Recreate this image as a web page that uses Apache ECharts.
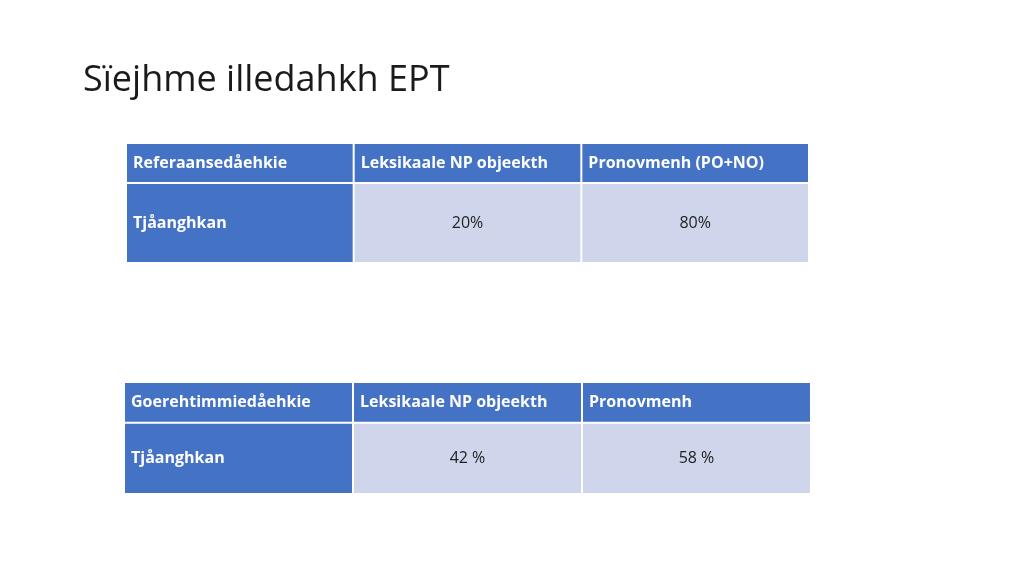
<!DOCTYPE html>
<html><head><meta charset="utf-8">
<script src="https://cdn.jsdelivr.net/npm/echarts@6/dist/echarts.min.js"></script>
<style>html,body{margin:0;padding:0;background:#fff}#c{width:1024px;height:576px}</style>
</head><body><div id="c"></div>
<script>
const title = "Sïejhme illedahkh EPT";
const headers1 = ["Referaansedåehkie", "Leksikaale NP objeekth", "Pronovmenh (PO+NO)"];
const row1 = ["Tjåanghkan", "20%", "80%"];
const headers2 = ["Goerehtimmiedåehkie", "Leksikaale NP objeekth", "Pronovmenh"];
const row2 = ["Tjåanghkan", "42 %", "58 %"];

function cells(headers, row, bodyEnd) {
  const d = [];
  headers.forEach((t, i) => d.push([i, 0, 1, t, 'h']));
  row.forEach((t, i) => d.push([i, 1, bodyEnd, t, i === 0 ? 'f' : 'b']));
  return d;
}
const data1 = cells(headers1, row1, 3);
const data2 = cells(headers2, row2, 2.75);
const all = [data1, data2];
function render(params, api) {
  const item = all[params.seriesIndex][params.dataIndex];
  const c = item[0], y0 = item[1], y1 = item[2];
  const p0 = api.coord([c, y0]), p1 = api.coord([c + 1, y1]);
  const kind = item[4], text = item[3];
  const x = p0[0] + 1, y = p0[1] + 1, w = p1[0] - p0[0] - 2, h = p1[1] - p0[1] - 2;
  const fill = kind === 'b' ? '#CFD5EA' : '#4472C4';
  const left = kind !== 'b';
  return {type: 'group', children: [
    {type: 'rect', shape: {x, y, width: w, height: h}, style: {fill}},
    {type: 'text', x: left ? x + 6 : x + w / 2, y: y + h / 2,
     style: {text, fill: kind === 'b' ? '#222' : '#fff', font: (kind === 'b' ? 'normal ' : 'bold ') + '16px "Open Sans", sans-serif',
       align: left ? 'left' : 'center', verticalAlign: 'middle'}}
  ]};
}
const chart = echarts.init(document.getElementById('c'));
const ax = (gi, max) => ({gridIndex: gi, type: 'value', min: 0, max, show: false});
chart.setOption({
  animation: false,
  title: {text: title, left: 78, top: 58, textStyle: {fontFamily: '"Open Sans", sans-serif', fontSize: 36, fontWeight: 'normal', color: '#1a1a1a'}},
  grid: [
    {left: 126, top: 143, width: 683, height: 120},
    {left: 124, top: 382, width: 687, height: 112}
  ],
  xAxis: [ax(0, 3), ax(1, 3)],
  yAxis: [Object.assign(ax(0, 3), {inverse: true}), Object.assign(ax(1, 2.75), {inverse: true})],
  series: [
    {type: 'custom', xAxisIndex: 0, yAxisIndex: 0, renderItem: render, data: data1.map(r => [r[0], r[1], r[2]]), encode: {x: 0, y: [1, 2]}},
    {type: 'custom', xAxisIndex: 1, yAxisIndex: 1, renderItem: render, data: data2.map(r => [r[0], r[1], r[2]]), encode: {x: 0, y: [1, 2]}}
  ]
});
</script></body></html>
